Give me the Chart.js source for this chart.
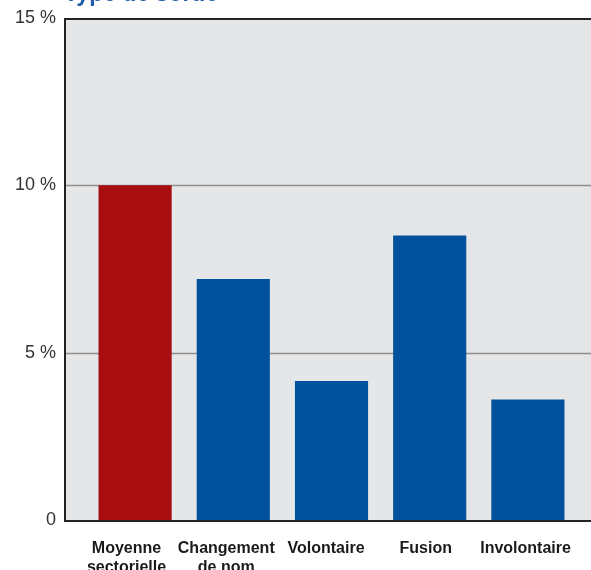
<!DOCTYPE html>
<html>
<head>
<meta charset="utf-8">
<script src="https://cdn.jsdelivr.net/npm/chart.js@4/dist/chart.umd.min.js"></script>
<style>
  html, body { margin: 0; padding: 0; background: #ffffff; }
  #wrap { position: relative; width: 591px; height: 570px; overflow: hidden; }
</style>
</head>
<body>
<div id="wrap"><canvas id="c" width="591" height="570"></canvas></div>
<script>
// Taux par type de sortie (%)
const titleText = 'Type de sortie';
const categories = [['Moyenne', 'sectorielle'], ['Changement', 'de nom'], 'Volontaire', 'Fusion', 'Involontaire'];
const values = [10.0, 7.2, 4.15, 8.5, 3.6];
const yTicks = [0, 5, 10, 15];

const RED = '#a80d10';
const BLUE = '#00529c';
const PANEL = '#e5e6e8';
const FRAME = '#222222';
const GRID = '#8e8e8e';
const FRAME_LEFT = 64;

// Grey panel, guide lines and frame span wider than the category band
const panelPlugin = {
  id: 'panel',
  beforeDatasetsDraw(chart) {
    const { ctx, chartArea, scales } = chart;
    const right = chart.width;
    ctx.save();
    ctx.fillStyle = PANEL;
    ctx.fillRect(FRAME_LEFT, chartArea.top, right - FRAME_LEFT, chartArea.bottom - chartArea.top);
    ctx.strokeStyle = GRID;
    ctx.lineWidth = 1.5;
    yTicks.forEach(v => {
      if (v === 0 || v === 15) return;
      const y = Math.round(scales.y.getPixelForValue(v)) + 0.5;
      ctx.beginPath();
      ctx.moveTo(FRAME_LEFT, y);
      ctx.lineTo(right, y);
      ctx.stroke();
    });
    ctx.restore();
  },
  afterDatasetsDraw(chart) {
    const { ctx, chartArea } = chart;
    const right = chart.width;
    ctx.save();
    ctx.strokeStyle = FRAME;
    ctx.lineWidth = 2;
    ctx.beginPath();
    ctx.moveTo(right, chartArea.top + 1);
    ctx.lineTo(FRAME_LEFT + 1, chartArea.top + 1);
    ctx.lineTo(FRAME_LEFT + 1, chartArea.bottom + 1);
    ctx.lineTo(right, chartArea.bottom + 1);
    ctx.stroke();
    // heading sits at the very top edge of the canvas
    ctx.fillStyle = '#1f5ba8';
    ctx.font = 'bold 23px "Liberation Sans", Arial, sans-serif';
    ctx.textBaseline = 'alphabetic';
    ctx.textAlign = 'left';
    ctx.fillText(titleText, 64, 0.5);
    ctx.restore();
  }
};

new Chart(document.getElementById('c'), {
  type: 'bar',
  data: {
    labels: categories,
    datasets: [{
      data: values,
      backgroundColor: [RED, BLUE, BLUE, BLUE, BLUE],
      borderWidth: 0,
      categoryPercentage: 1,
      barPercentage: 0.745
    }]
  },
  options: {
    responsive: false,
    animation: false,
    layout: { padding: { top: 18, right: 14, left: 0, bottom: 0 } },
    plugins: { legend: { display: false }, tooltip: { enabled: false }, title: { display: false } },
    scales: {
      x: {
        display: false
      },
      // label row: evenly spaced captions, slightly narrower pitch than the bars
      xl: {
        type: 'linear',
        position: 'bottom',
        offset: false,
        min: -0.406,
        max: 4.516,
        grid: { display: false, drawTicks: false, offset: false },
        border: { display: false },
        afterFit(scale) { scale.height = 50; scale.paddingLeft = 0; scale.paddingRight = 0; },
        afterBuildTicks(scale) { scale.ticks = categories.map((c, i) => ({ value: i })); },
        ticks: {
          color: '#1a1a1a',
          padding: 19,
          maxRotation: 0,
          autoSkip: false,
          font: { family: '"Liberation Sans", Arial, sans-serif', size: 16, weight: 'bold', lineHeight: 1.2 },
          callback: (v) => categories[v]
        }
      },
      y: {
        min: 0,
        max: 15,
        grid: { display: false, drawTicks: false },
        border: { display: false },
        afterFit(scale) { scale.width = 86; scale.paddingTop = 0; scale.paddingBottom = 0; },
        afterBuildTicks(scale) { scale.ticks = yTicks.map(v => ({ value: v })); },
        ticks: {
          color: '#333333',
          padding: 30,
          font: { family: '"Liberation Sans", Arial, sans-serif', size: 18 },
          callback: v => (v === 0 ? '0' : v + ' %')
        }
      }
    }
  },
  plugins: [panelPlugin]
});
</script>
</body>
</html>
